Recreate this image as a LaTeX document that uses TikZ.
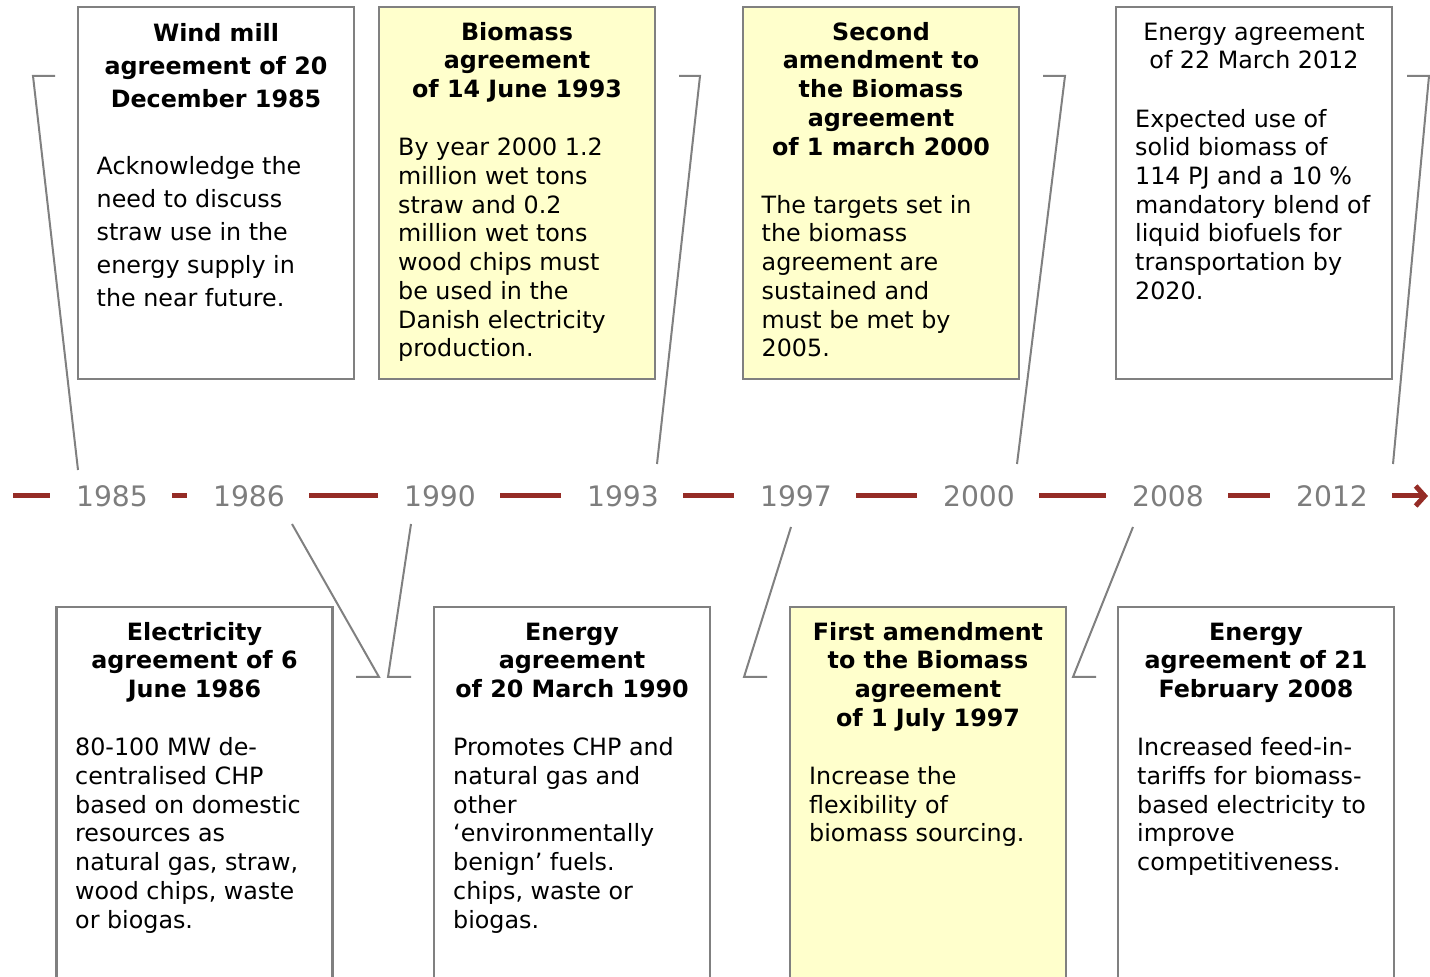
\documentclass[tikz,border=0pt]{standalone}
\usepackage{fontspec}
\setmainfont{DejaVu Sans}
\usetikzlibrary{positioning, arrows.meta}
\definecolor{linegray}{RGB}{128,128,128}
\definecolor{yeargray}{RGB}{125,125,125}
\definecolor{timered}{RGB}{149,44,38}
\definecolor{noteyellow}{RGB}{255,255,204}
\newcommand\boxfont{\fontsize{11.9}{14.35}\selectfont}
\newcommand\wideboxfont{\fontsize{11.9}{16.5}\selectfont}
\newcommand\headrows[1]{\begin{tabular}{@{}c@{}}#1\end{tabular}}
\newcommand\bodyrows[1]{\begin{tabular}{@{}l@{}}#1\end{tabular}}
\tikzset{
	agreement/.style={draw=linegray, line width=1.2pt, fill=white, minimum width=138pt, inner sep=0pt}, % caja de cada acuerdo
	upper/.style={agreement, minimum height=186pt},
	lower/.style={agreement, minimum height=200pt},
	biomass/.style={fill=noteyellow},
	heading/.style={inner sep=0pt, font=\boxfont\bfseries},
	summary/.style={inner sep=0pt, font=\boxfont},
	year/.style={text=yeargray, font=\fontsize{14.1}{17}\selectfont, inner xsep=0pt},
	timeline/.style={draw=timered, line width=2.5pt, shorten <=12pt, shorten >=13pt},
	link/.style={draw=linegray, line width=1pt}
}

\begin{document}
\begin{tikzpicture}[x=0.5pt, y=-0.5pt]
	\useasboundingbox (0,0) rectangle (1430,977);
	\clip (0,0) rectangle (1430,977);
	% linea de tiempo
	\node[year] (y1985) at (112,496) {1985};
	\node[year] (y1986) at (249,496) {1986};
	\node[year] (y1990) at (440,496) {1990};
	\node[year] (y1993) at (623,496) {1993};
	\node[year] (y1997) at (796,496) {1997};
	\node[year] (y2000) at (979,496) {2000};
	\node[year] (y2008) at (1168,496) {2008};
	\node[year] (y2012) at (1332,496) {2012};
	\coordinate (tlstart) at (13,496);
	\coordinate (tlend) at (1428,496);
	\draw[timeline, shorten <=0pt] (tlstart) -- (y1985);
	\draw[timeline] (y1985) -- (y1986);
	\draw[timeline] (y1986) -- (y1990);
	\draw[timeline] (y1990) -- (y1993);
	\draw[timeline] (y1993) -- (y1997);
	\draw[timeline] (y1997) -- (y2000);
	\draw[timeline] (y2000) -- (y2008);
	\draw[timeline] (y2008) -- (y2012);
	\draw[timeline, shorten >=0pt, -{Straight Barb[length=4.5pt, width=10pt]}] (y2012) -- (tlend);

	% acuerdos de arriba
	\node[upper] (wind) at (216,193) {};
	\node[heading, font=\wideboxfont\bfseries, below=6pt of wind.north] (windhead) {\headrows{Wind mill\\agreement of 20\\December 1985}};
	\coordinate (windcorner) at (windhead.south -| wind.west);
	\node[summary, font=\wideboxfont, below right=16.5pt and 9.75pt of windcorner] (windbody)
		{\bodyrows{Acknowledge the\\need to discuss\\straw use in the\\energy supply in\\the near future.}};

	\node[upper, biomass] (bio93) at (517,193) {};
	\node[heading, below=7pt of bio93.north] (bio93head) {\headrows{Biomass\\agreement\\of 14 June 1993}};
	\coordinate (bio93corner) at (bio93head.south -| bio93.west);
	\node[summary, below right=14.35pt and 10pt of bio93corner] (bio93body)
		{\bodyrows{By year 2000 1.2\\million wet tons\\straw and 0.2\\million wet tons\\wood chips must\\be used in the\\Danish electricity\\production.}};

	\node[upper, biomass] (bio00) at (881,193) {};
	\node[heading, below=7pt of bio00.north] (bio00head) {\headrows{Second\\amendment to\\the Biomass\\agreement\\of 1 march 2000}};
	\coordinate (bio00corner) at (bio00head.south -| bio00.west);
	\node[summary, below right=14.35pt and 9.75pt of bio00corner] (bio00body)
		{\bodyrows{The targets set in\\the biomass\\agreement are\\sustained and\\must be met by\\2005.}};

	\node[upper] (en12) at (1254,193) {};
	\node[heading, font=\boxfont, below=7pt of en12.north] (en12head) {\headrows{Energy agreement\\of 22 March 2012}};
	\coordinate (en12corner) at (en12head.south -| en12.west);
	\node[summary, below right=14.35pt and 10pt of en12corner] (en12body)
		{\bodyrows{Expected use of\\solid biomass of\\114 PJ and a 10 \%\\mandatory blend of\\liquid biofuels for\\transportation by\\2020.}};

	% acuerdos de abajo
	\node[lower] (el86) at (194.5,807) {};
	\node[heading, below=7pt of el86.north] (el86head) {\headrows{Electricity\\agreement of 6\\June 1986}};
	\coordinate (el86corner) at (el86head.south -| el86.west);
	\node[summary, below right=14.35pt and 9.75pt of el86corner] (el86body)
		{\bodyrows{80-100 MW de-\\centralised CHP\\based on domestic\\resources as\\natural gas, straw,\\wood chips, waste\\or biogas.}};

	\node[lower] (en90) at (572,807) {};
	\node[heading, below=7pt of en90.north] (en90head) {\headrows{Energy\\agreement\\of 20 March 1990}};
	\coordinate (en90corner) at (en90head.south -| en90.west);
	\node[summary, below right=14.35pt and 10pt of en90corner] (en90body)
		{\bodyrows{Promotes CHP and\\natural gas and\\other\\‘environmentally\\benign’ fuels.\\chips, waste or\\biogas.}};

	\node[lower, biomass] (bio97) at (928,807) {};
	\node[heading, below=7pt of bio97.north] (bio97head) {\headrows{First amendment\\to the Biomass\\agreement\\of 1 July 1997}};
	\coordinate (bio97corner) at (bio97head.south -| bio97.west);
	\node[summary, below right=14.35pt and 10pt of bio97corner] (bio97body)
		{\bodyrows{Increase the\\flexibility of\\biomass sourcing.}};

	\node[lower] (en08) at (1256,807) {};
	\node[heading, below=7pt of en08.north] (en08head) {\headrows{Energy\\agreement of 21\\February 2008}};
	\coordinate (en08corner) at (en08head.south -| en08.west);
	\node[summary, below right=14.35pt and 10pt of en08corner] (en08body)
		{\bodyrows{Increased feed-in-\\tariffs for biomass-\\based electricity to\\improve\\competitiveness.}};

	% conectores entre año y acuerdo
	\foreach \yr/\sx/\sy/\bx/\by/\tx in {1985/-34/-26/33/76/55, 1986/43/28/379/677/356,
			1990/-29/28/388/677/411, 1993/34/-32/700/76/679, 1997/-5/31/744/677/767,
			2000/38/-32/1065/76/1043, 2008/-35/31/1073/677/1096, 2012/61/-32/1429/76/1407}{
		\coordinate (bend\yr) at (\bx,\by);
		\coordinate (tick\yr) at (\tx,\by);
		\draw[link] ([shift={(\sx,\sy)}]y\yr.center) -- (bend\yr) -- (tick\yr);
	}
\end{tikzpicture}
\end{document}
